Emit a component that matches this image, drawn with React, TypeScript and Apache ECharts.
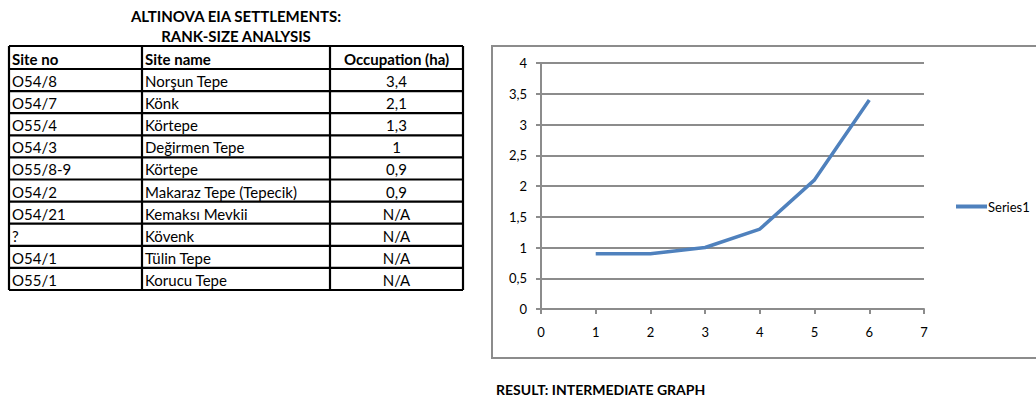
import React, { useEffect, useRef } from "react";
import * as echarts from "echarts";

// Table content
const titleLines = ["ALTINOVA EIA SETTLEMENTS:", "RANK-SIZE ANALYSIS"];
const columnHeaders = ["Site no", "Site name", "Occupation (ha)"];
const siteNos = ["O54/8", "O54/7", "O55/4", "O54/3", "O55/8-9", "O54/2", "O54/21", "?", "O54/1", "O55/1"];
const siteNames = [
  "Norşun Tepe",
  "Könk",
  "Körtepe",
  "Değirmen Tepe",
  "Körtepe",
  "Makaraz Tepe (Tepecik)",
  "Kemaksı Mevkii",
  "Kövenk",
  "Tülin Tepe",
  "Korucu Tepe",
];
const occupations = ["3,4", "2,1", "1,3", "1", "0,9", "0,9", "N/A", "N/A", "N/A", "N/A"];

// Chart content
const seriesName = "Series1";
const footnote = "RESULT: INTERMEDIATE GRAPH";

// Known sizes, smallest first, plotted against their rank position
const rankSizes = occupations
  .filter((v) => v !== "N/A")
  .map((v) => parseFloat(v.replace(",", ".")))
  .reverse();
const seriesData = rankSizes.map((v, i) => [i + 1, v]);

const FONT = "Lato, 'Open Sans', sans-serif";
const GRID_GRAY = "#8c8c8c";

function buildTable(): any[] {
  const left = 9;
  const right = 463;
  const colX = [left, 142, 330, right];
  const top = 46;
  const headerBottom = 69;
  const rowH = 22.1;
  const bottom = headerBottom + rowH * siteNos.length;
  const els: any[] = [];

  titleLines.forEach((t, i) => {
    els.push({
      type: "text",
      x: 236,
      y: 16 + i * 20,
      style: {
        text: t,
        font: `bold 15px ${FONT}`,
        fill: "#000",
        align: "center",
        verticalAlign: "middle",
      },
    });
  });

  // horizontal rules
  const ys = [top, headerBottom];
  for (let i = 1; i <= siteNos.length; i++) ys.push(headerBottom + rowH * i);
  ys.forEach((y) => {
    els.push({
      type: "line",
      shape: { x1: left, y1: y, x2: right, y2: y },
      style: { stroke: "#000", lineWidth: 2.2 },
    });
  });
  // vertical rules
  colX.forEach((x) => {
    els.push({
      type: "line",
      shape: { x1: x, y1: top, x2: x, y2: bottom },
      style: { stroke: "#000", lineWidth: 2.2 },
    });
  });

  const cellText = (text: string, col: number, yMid: number, bold: boolean) => {
    const centered = col === 2;
    els.push({
      type: "text",
      x: centered ? (colX[2] + colX[3]) / 2 : colX[col] + 3,
      y: yMid,
      style: {
        text,
        font: `${bold ? "bold " : ""}15px ${FONT}`,
        fill: "#000",
        align: centered ? "center" : "left",
        verticalAlign: "middle",
      },
    });
  };

  columnHeaders.forEach((h, c) => cellText(h, c, (top + headerBottom) / 2 + 1, true));
  siteNos.forEach((_, r) => {
    const yMid = headerBottom + rowH * r + rowH / 2 + 1;
    cellText(siteNos[r], 0, yMid, false);
    cellText(siteNames[r], 1, yMid, false);
    cellText(occupations[r], 2, yMid, false);
  });
  return els;
}

export default function App() {
  const ref = useRef<HTMLDivElement>(null);

  useEffect(() => {
    if (!ref.current) return;
    const chart = echarts.init(ref.current, null, { renderer: "svg" });
    chart.setOption({
      animation: false,
      backgroundColor: "#fff",
      textStyle: { fontFamily: FONT },
      grid: { left: 541, top: 63, width: 383, height: 246, containLabel: false },
      legend: {
        show: true,
        left: 951,
        top: 195,
        icon: "rect",
        itemWidth: 31,
        itemHeight: 4,
        itemGap: 0,
        textStyle: { fontSize: 13, color: "#000", fontFamily: FONT, padding: [0, 0, 0, -4] },
        data: [seriesName],
      },
      xAxis: {
        type: "value",
        min: 0,
        max: 7,
        interval: 1,
        axisLine: { show: true, lineStyle: { color: GRID_GRAY, width: 2 } },
        axisTick: { show: true, inside: false, length: 5, lineStyle: { color: GRID_GRAY, width: 2 } },
        axisLabel: { color: "#000", fontSize: 13, margin: 16, fontFamily: FONT },
        splitLine: { show: false },
      },
      yAxis: {
        type: "value",
        min: 0,
        max: 4,
        interval: 0.5,
        axisLine: { show: true, lineStyle: { color: GRID_GRAY, width: 2 } },
        axisTick: { show: true, inside: false, length: 5, lineStyle: { color: GRID_GRAY, width: 2 } },
        axisLabel: {
          color: "#000",
          fontSize: 13,
          margin: 14,
          fontFamily: FONT,
          formatter: (v: number) => String(v).replace(".", ","),
        },
        splitLine: { show: true, lineStyle: { color: GRID_GRAY, width: 2 } },
      },
      series: [
        {
          name: seriesName,
          type: "line",
          data: seriesData,
          symbol: "none",
          lineStyle: { color: "#4f81bd", width: 3.5 },
          itemStyle: { color: "#4f81bd" },
        },
      ],
      graphic: [
        {
          type: "rect",
          z: -1,
          shape: { x: 492, y: 46, width: 600, height: 312 },
          style: { fill: "none", stroke: GRID_GRAY, lineWidth: 2 },
        },
        {
          type: "text",
          x: 496,
          y: 389,
          style: {
            text: footnote,
            font: `bold 14px ${FONT}`,
            fill: "#000",
            verticalAlign: "middle",
          },
        },
        ...buildTable(),
      ],
    });
    return () => chart.dispose();
  }, []);

  return (
    <div
      ref={ref}
      style={{ position: "absolute", left: 0, top: 0, width: 1036, height: 400 }}
    />
  );
}
